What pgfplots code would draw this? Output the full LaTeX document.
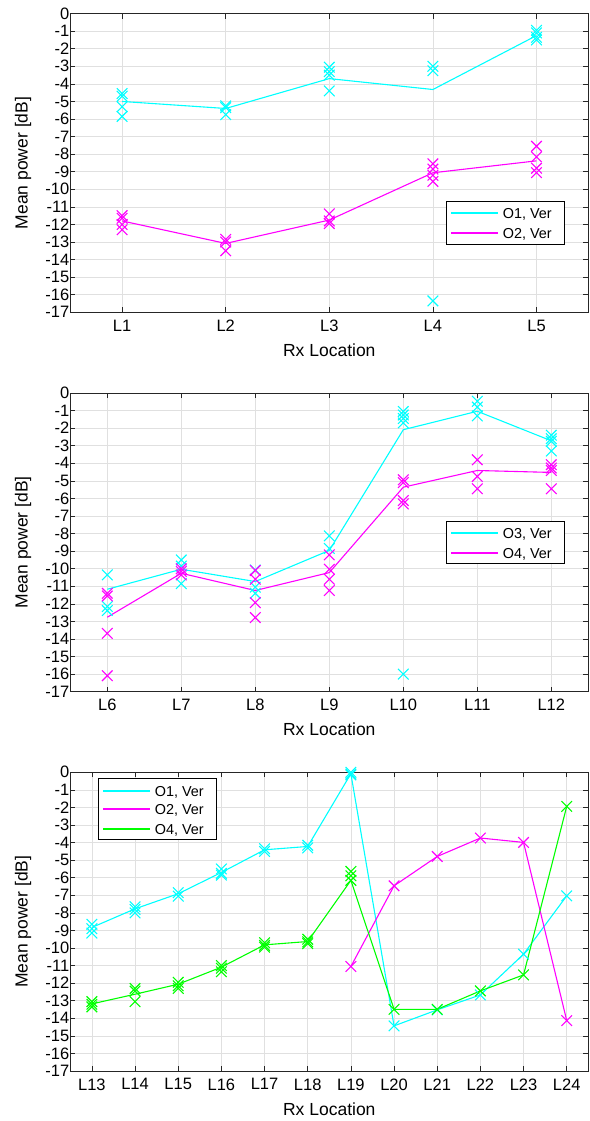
\documentclass[border=0pt]{standalone}
\usepackage{pgfplots}
\pgfplotsset{compat=1.18}
\usepackage{fontspec}
\setmainfont{Liberation Sans}

\definecolor{axc}{rgb}{0.15,0.15,0.15}
\definecolor{gridc}{rgb}{0.88,0.88,0.88}
\definecolor{mycyan}{rgb}{0,1,1}
\definecolor{mymag}{rgb}{1,0,1}
\definecolor{mygreen}{rgb}{0,1,0}

\pgfplotsset{
 mystyle/.style={
  scale only axis, width=518pt, height=298.7pt,
  ymin=-17, ymax=0, ytick={-17,-16,...,0},
  /pgf/number format/assume math mode=true,
  tick label style={font=\fontsize{16.5}{16.5}\selectfont},
  yticklabel style={xshift=2.5pt},
  xticklabel style={yshift=-4pt},
  label style={font=\fontsize{17.5}{17.5}\selectfont},
  axis line style={axc, line width=0.6pt},
  tick style={axc, line width=0.6pt},
  major tick length=5pt,
  tick align=inside,
  grid=major, major grid style={gridc, line width=0.6pt},
  xlabel={Rx Location}, ylabel={Mean power [dB]},
  ylabel style={at={(axis description cs:-0.0913,0.5)}, anchor=center},
  xlabel style={at={(axis description cs:0.5,-0.127)}, anchor=center},
  clip=false,
 },
 mk/.style={only marks, mark=x, mark size=7.5pt, line width=1.1pt, color=#1},
 ln/.style={draw=#1, line width=1.1pt, mark=none},
}
\tikzset{
 lgbox/.style={draw=black, line width=0.6pt, fill=white},
 lgln/.style={draw=#1, line width=1.8pt},
 lgtxt/.style={anchor=base west, inner sep=0pt, font=\fontsize{14.4}{14.4}\selectfont},
}

\begin{document}
\begin{tikzpicture}
\useasboundingbox (0,0) rectangle (589pt,-1121pt);

% ---------- Panel 1 ----------
\begin{axis}[mystyle, at={(70.3pt,-312.3pt)}, anchor=south west,
  xmin=0.5, xmax=5.5, xtick={1,...,5}, xticklabels={L1,L2,L3,L4,L5}]
\addplot[ln=mycyan] coordinates {(1,-5.0) (2,-5.4) (3,-3.7) (4,-4.32) (5,-1.25)};
\addplot[ln=mymag] coordinates {(1,-11.8) (2,-13.08) (3,-11.75) (4,-9.06) (5,-8.38)};
\addplot[mk=mycyan] coordinates {
 (1,-4.55) (1,-4.7) (1,-5.3) (1,-5.85)
 (2,-5.25) (2,-5.35) (2,-5.75)
 (3,-3.05) (3,-3.3) (3,-3.5) (3,-4.4)
 (4,-3.0) (4,-3.25) (4,-16.35)
 (5,-0.95) (5,-1.1) (5,-1.35) (5,-1.5)};
\addplot[mk=mymag] coordinates {
 (1,-11.5) (1,-11.65) (1,-12.0) (1,-12.3)
 (2,-12.85) (2,-13.0) (2,-13.5)
 (3,-11.4) (3,-11.8) (3,-11.95)
 (4,-8.55) (4,-8.85) (4,-9.2) (4,-9.55)
 (5,-7.55) (5,-8.15) (5,-8.8) (5,-9.05)};
\coordinate (lgA) at (axis description cs:0.7253,0.37);
\end{axis}
\draw[lgbox] (lgA) rectangle ++(118pt,-42.6pt);
\draw[lgln=mycyan] ([shift={(5pt,-11.22pt)}]lgA) -- ++(47pt,0pt);
\draw[lgln=mymag] ([shift={(5pt,-31.22pt)}]lgA) -- ++(47pt,0pt);
\node[lgtxt] at ([shift={(56.7pt,-16.4pt)}]lgA) {O1, Ver};
\node[lgtxt] at ([shift={(56.7pt,-36.4pt)}]lgA) {O2, Ver};

% ---------- Panel 2 ----------
\begin{axis}[mystyle, at={(70.3pt,-691.7pt)}, anchor=south west,
  xmin=5.5, xmax=12.5, xtick={6,...,12}, xticklabels={L6,L7,L8,L9,L10,L11,L12}]
\addplot[ln=mycyan] coordinates {(6,-11.17) (7,-10.03) (8,-10.73) (9,-8.96) (10,-2.09) (11,-1.04) (12,-2.72)};
\addplot[ln=mymag] coordinates {(6,-12.76) (7,-10.26) (8,-11.24) (9,-10.22) (10,-5.36) (11,-4.41) (12,-4.52)};
\addplot[mk=mycyan] coordinates {
 (6,-10.35) (6,-12.15) (6,-12.38)
 (7,-9.5) (7,-9.85) (7,-10.85)
 (8,-10.07) (8,-11.05) (8,-11.4)
 (9,-8.13) (9,-8.85)
 (10,-1.05) (10,-1.25) (10,-1.45) (10,-1.7) (10,-16.0)
 (11,-0.47) (11,-0.8) (11,-1.3)
 (12,-2.4) (12,-2.6) (12,-2.75) (12,-3.3)};
\addplot[mk=mymag] coordinates {
 (6,-11.4) (6,-11.55) (6,-13.68) (6,-16.09)
 (7,-10.0) (7,-10.15) (7,-10.35)
 (8,-10.1) (8,-10.6) (8,-11.93) (8,-12.78)
 (9,-9.21) (9,-10.03) (9,-10.6) (9,-11.24)
 (10,-4.94) (10,-5.1) (10,-6.12) (10,-6.31)
 (11,-3.8) (11,-4.75) (11,-5.45)
 (12,-4.08) (12,-4.27) (12,-4.41) (12,-5.45)};
\coordinate (lgB) at (axis description cs:0.7253,0.5697);
\end{axis}
\draw[lgbox] (lgB) rectangle ++(118pt,-41.5pt);
\draw[lgln=mycyan] ([shift={(5pt,-11.47pt)}]lgB) -- ++(47pt,0pt);
\draw[lgln=mymag] ([shift={(5pt,-31.47pt)}]lgB) -- ++(47pt,0pt);
\node[lgtxt] at ([shift={(56.7pt,-16.7pt)}]lgB) {O3, Ver};
\node[lgtxt] at ([shift={(56.7pt,-36.7pt)}]lgB) {O4, Ver};

% ---------- Panel 3 ----------
\begin{axis}[mystyle, at={(70.3pt,-1071pt)}, anchor=south west,
  xmin=12.5, xmax=24.5, xtick={13,...,24},
  xticklabels={L13,L14,L15,L16,L17,L18,L19,L20,L21,L22,L23,L24}]
\addplot[ln=mycyan] coordinates {(13,-8.83) (14,-7.77) (15,-6.91) (16,-5.7) (17,-4.41) (18,-4.22) (19,-0.08) (20,-14.43) (21,-13.52) (22,-12.67) (23,-10.35) (24,-7.03)};
\addplot[ln=mymag] coordinates {(19,-11.05) (20,-6.46) (21,-4.79) (22,-3.74) (23,-3.99) (24,-14.13)};
\addplot[ln=mygreen] coordinates {(13,-13.18) (14,-12.63) (15,-12.06) (16,-11.09) (17,-9.82) (18,-9.63) (19,-6.15) (20,-13.49) (21,-13.49) (22,-12.44) (23,-11.53) (24,-1.94)};
\addplot[mk=mycyan] coordinates {
 (13,-8.65) (13,-8.9) (13,-9.15)
 (14,-7.65) (14,-7.8) (14,-8.0)
 (15,-6.85) (15,-7.05)
 (16,-5.5) (16,-5.75) (16,-5.85)
 (17,-4.35) (17,-4.5)
 (18,-4.15) (18,-4.3)
 (19,0) (19,-0.1) (19,-0.15)
 (20,-14.43) (21,-13.52) (22,-12.67) (23,-10.35) (24,-7.03)};
\addplot[mk=mymag] coordinates {
 (19,-11.05) (20,-6.46) (21,-4.79) (22,-3.74) (23,-3.99) (24,-14.13)};
\addplot[mk=mygreen] coordinates {
 (13,-13.05) (13,-13.2) (13,-13.35)
 (14,-12.3) (14,-12.45) (14,-13.05)
 (15,-11.95) (15,-12.15) (15,-12.3)
 (16,-11.0) (16,-11.15) (16,-11.35)
 (17,-9.7) (17,-9.85) (17,-9.95)
 (18,-9.5) (18,-9.65) (18,-9.75)
 (19,-5.64) (19,-5.89) (19,-6.15)
 (20,-13.49) (21,-13.49) (22,-12.44) (23,-11.53) (24,-1.94)};
\coordinate (lgC) at (axis description cs:0.0535,0.979);
\end{axis}
\draw[lgbox] (lgC) rectangle ++(118.4pt,-61pt);
\draw[lgln=mycyan] ([shift={(5pt,-12.42pt)}]lgC) -- ++(47pt,0pt);
\draw[lgln=mymag] ([shift={(5pt,-30.42pt)}]lgC) -- ++(47pt,0pt);
\draw[lgln=mygreen] ([shift={(5pt,-50.42pt)}]lgC) -- ++(47pt,0pt);
\node[lgtxt] at ([shift={(56.7pt,-17.6pt)}]lgC) {O1, Ver};
\node[lgtxt] at ([shift={(56.7pt,-35.6pt)}]lgC) {O2, Ver};
\node[lgtxt] at ([shift={(56.7pt,-55.6pt)}]lgC) {O4, Ver};
\end{tikzpicture}
\end{document}
